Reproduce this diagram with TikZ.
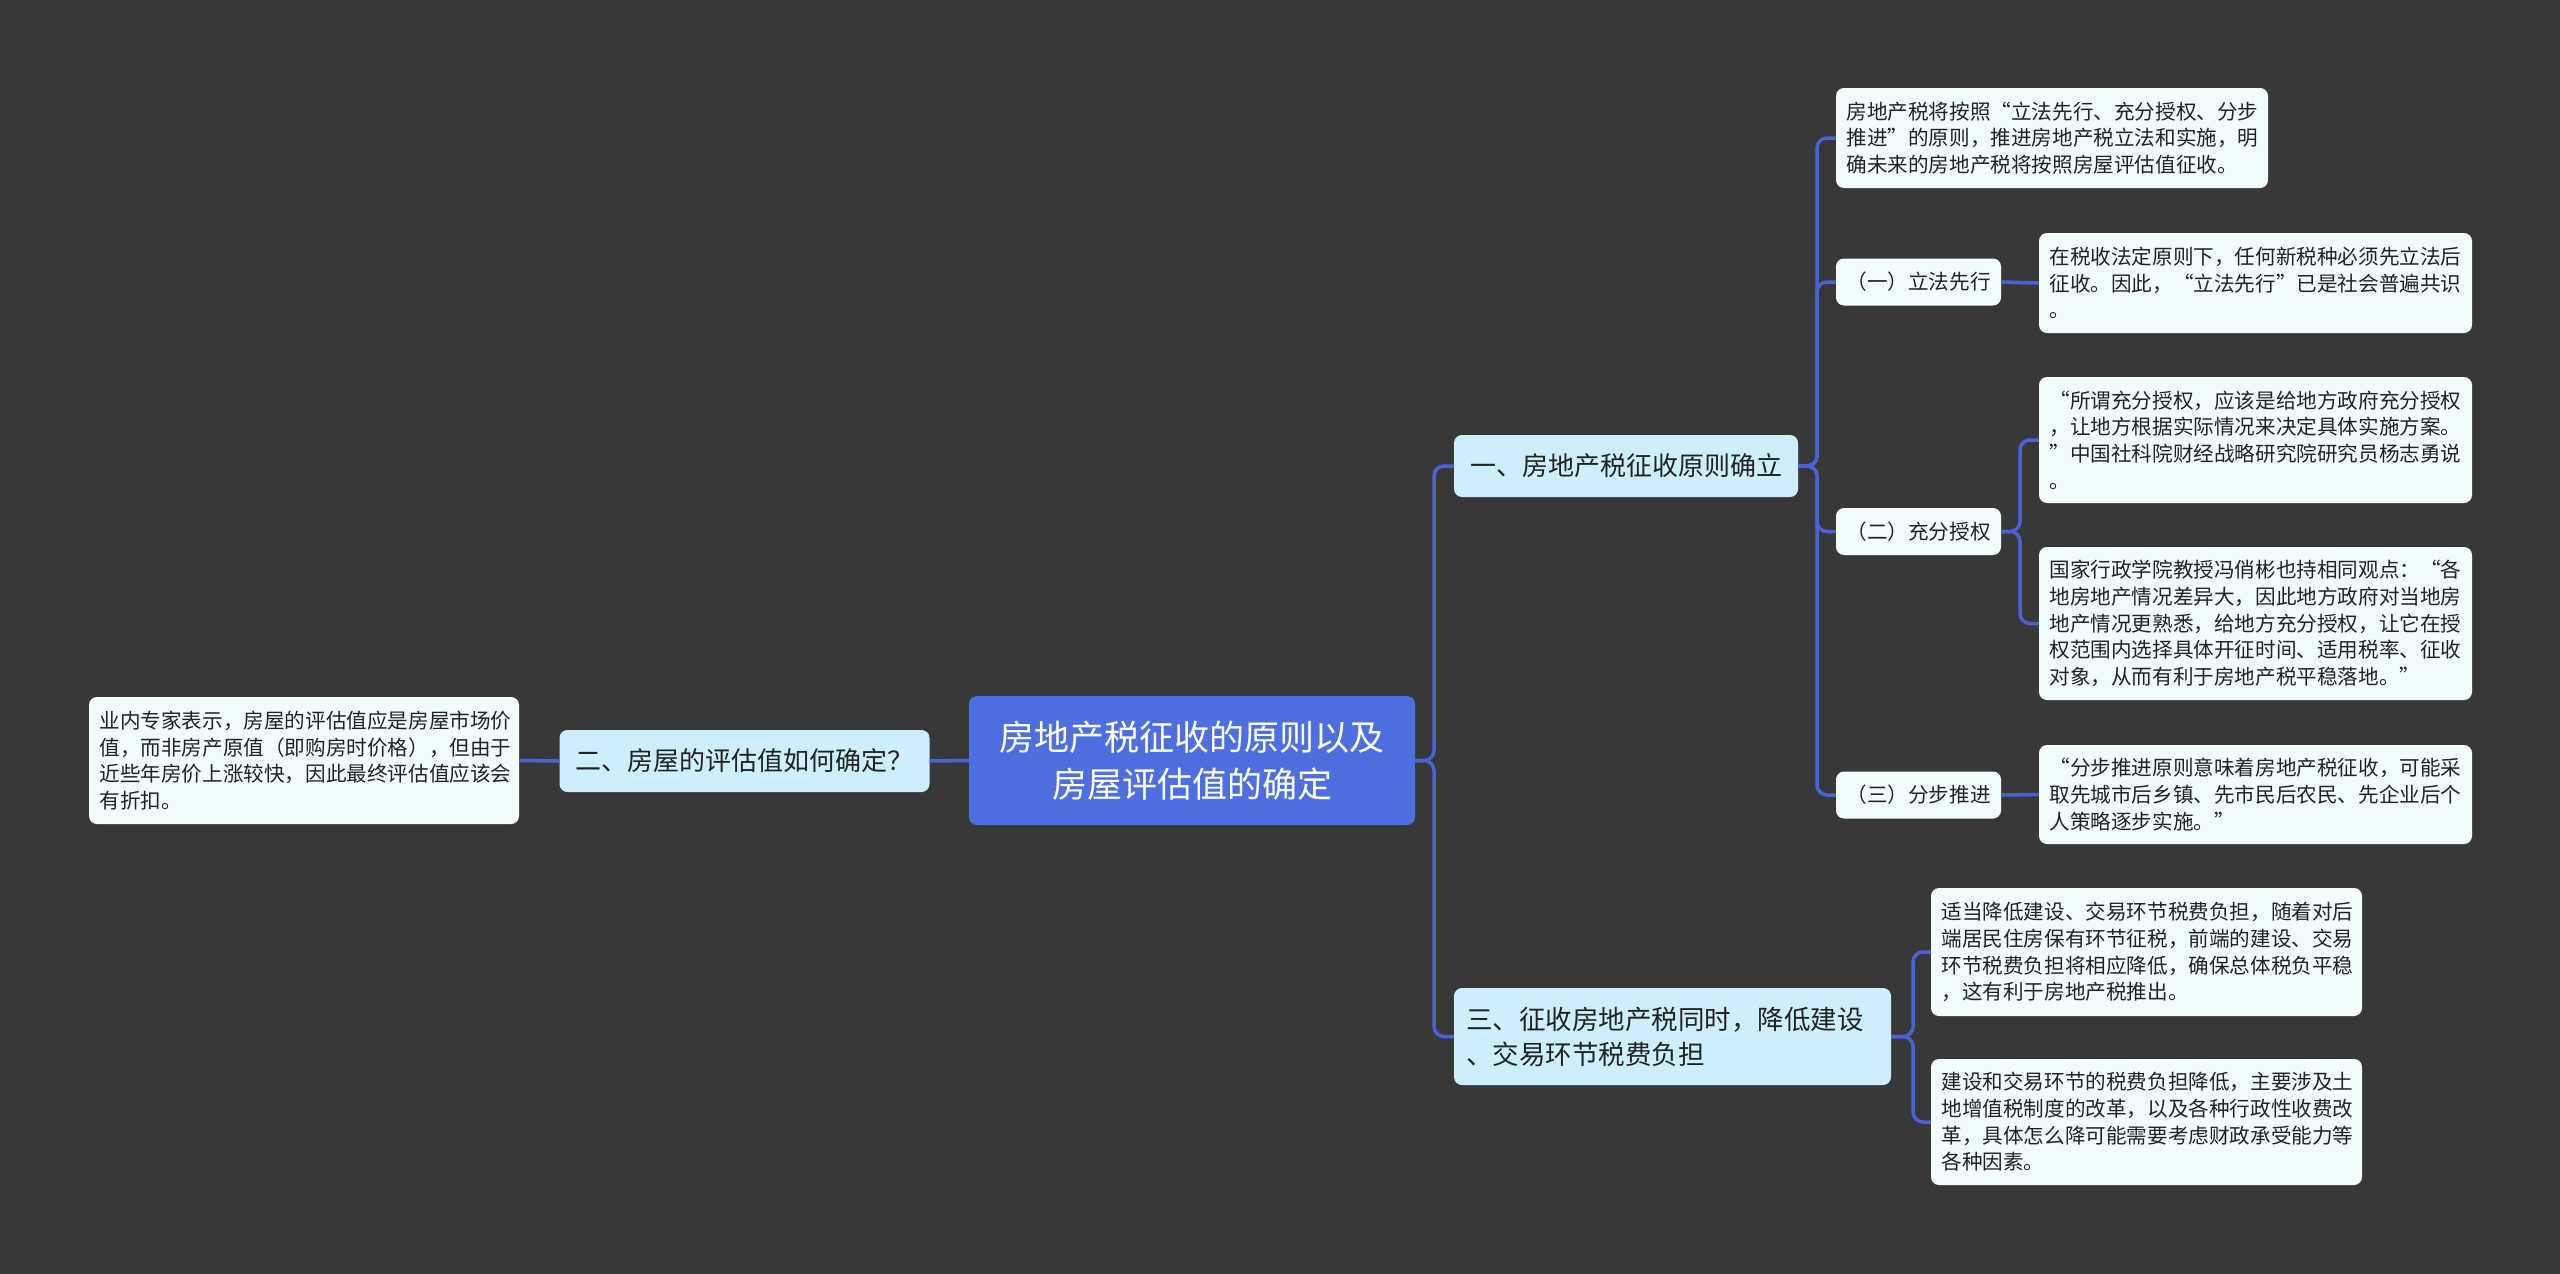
\documentclass[tikz,border=0pt]{standalone}
\usepackage{fontspec}
\setmainfont{Noto Sans CJK SC}
\newfontfamily\cjk{Noto Sans CJK SC}
\definecolor{bgc}{HTML}{393838}
\definecolor{linec}{HTML}{4A62D6}
\definecolor{rootc}{HTML}{4D6FE0}
\definecolor{lvlc}{HTML}{CDEFFC}
\definecolor{leafc}{HTML}{F1FCFE}
\definecolor{txtc}{HTML}{222222}
\tikzset{
  base/.style={rounded corners=8pt, inner ysep=0pt, anchor=center, font=\cjk},
  rootbox/.style={base, fill=rootc, text=white, align=center, minimum width=446pt, minimum height=129pt, font=\cjk\fontsize{35}{47}\selectfont},
  lvlbox/.style={base, fill=lvlc, text=txtc, align=left, inner xsep=16pt, minimum height=62pt, font=\cjk\fontsize{26}{35}\selectfont},
  subbox/.style={base, fill=leafc, text=txtc, align=center, minimum width=165pt, minimum height=47pt, font=\cjk\fontsize{20.6}{26.7}\selectfont},
  leafbox/.style={base, fill=leafc, text=txtc, align=left, inner xsep=10.5pt, text width=412pt, font=\cjk\fontsize{20.6}{26.7}\selectfont},
  conn/.style={draw=linec, line width=3.5pt, rounded corners=10pt}
}
\begin{document}
\begin{tikzpicture}[x=1pt,y=-1pt]
\fill[bgc] (0,0) rectangle (2560,1274);
\useasboundingbox (0,0) rectangle (2560,1274);

\coordinate (t0) at (1434,760.5);
\coordinate (t1) at (1817,466);
\coordinate (t2) at (2020,531.5);
\coordinate (t3) at (1913,1036.5);

\node[rootbox] (root) at (1192,760.5) {房地产税征收的原则以及\\房屋评估值的确定};
\node[lvlbox] (n1) at (1626,466) {一、房地产税征收原则确立};
\node[lvlbox] (n2) at (744.5,761) {二、房屋的评估值如何确定？};
\node[lvlbox, inner xsep=12pt, text width=413pt, minimum height=97pt, font=\cjk\fontsize{26.5}{35}\selectfont] (n3) at (1672.5,1036.5) {三、征收房地产税同时，降低建设\\、交易环节税费负担};

\node[leafbox, text width=409pt, minimum height=127pt] (lL) at (304,760.5) {业内专家表示，房屋的评估值应是房屋市场价\\值，而非房产原值（即购房时价格），但由于\\近些年房价上涨较快，因此最终评估值应该会\\有折扣。};

\node[leafbox, text width=411pt, minimum height=100pt] (A) at (2052,138) {房地产税将按照“立法先行、充分授权、分步\\推进”的原则，推进房地产税立法和实施，明\\确未来的房地产税将按照房屋评估值征收。};
\node[subbox] (s1) at (1918.5,282) {（一）立法先行};
\node[leafbox, minimum height=100pt] (B) at (2255.5,283) {在税收法定原则下，任何新税种必须先立法后\\征收。因此，“立法先行”已是社会普遍共识\\。};
\node[subbox] (s2) at (1918.5,531.5) {（二）充分授权};
\node[leafbox, minimum height=126pt] (C) at (2255.5,440) {“所谓充分授权，应该是给地方政府充分授权\\，让地方根据实际情况来决定具体实施方案。\\”中国社科院财经战略研究院研究员杨志勇说\\。};
\node[leafbox, minimum height=153pt] (D) at (2255.5,623.5) {国家行政学院教授冯俏彬也持相同观点：“各\\地房地产情况差异大，因此地方政府对当地房\\地产情况更熟悉，给地方充分授权，让它在授\\权范围内选择具体开征时间、适用税率、征收\\对象，从而有利于房地产税平稳落地。”};
\node[subbox] (s3) at (1918.5,795) {（三）分步推进};
\node[leafbox, minimum height=99pt] (E) at (2255.5,794.5) {“分步推进原则意味着房地产税征收，可能采\\取先城市后乡镇、先市民后农民、先企业后个\\人策略逐步实施。”};

\node[leafbox, text width=410pt, minimum height=128pt] (F) at (2146.5,952) {适当降低建设、交易环节税费负担，随着对后\\端居民住房保有环节征税，前端的建设、交易\\环节税费负担将相应降低，确保总体税负平稳\\，这有利于房地产税推出。};
\node[leafbox, text width=410pt, minimum height=126pt] (G) at (2146.5,1122) {建设和交易环节的税费负担降低，主要涉及土\\地增值税制度的改革，以及各种行政性收费改\\革，具体怎么降可能需要考虑财政承受能力等\\各种因素。};

\draw[conn] (root.east) -- (t0) |- (n1.west);
\draw[conn] (root.east) -- (t0) |- (n3.west);
\draw[conn] (root.west) -- (n2.east);
\draw[conn] (n2.west) -- (lL.east);
\draw[conn] (n1.east) -- (t1) |- (A.west);
\draw[conn] (n1.east) -- (t1) |- (s1.west);
\draw[conn] (n1.east) -- (t1) |- (s2.west);
\draw[conn] (n1.east) -- (t1) |- (s3.west);
\draw[conn] (s1.east) -- (B.west);
\draw[conn] (s2.east) -- (t2) |- (C.west);
\draw[conn] (s2.east) -- (t2) |- (D.west);
\draw[conn] (s3.east) -- (E.west);
\draw[conn] (n3.east) -- (t3) |- (F.west);
\draw[conn] (n3.east) -- (t3) |- (G.west);
\end{tikzpicture}
\end{document}
